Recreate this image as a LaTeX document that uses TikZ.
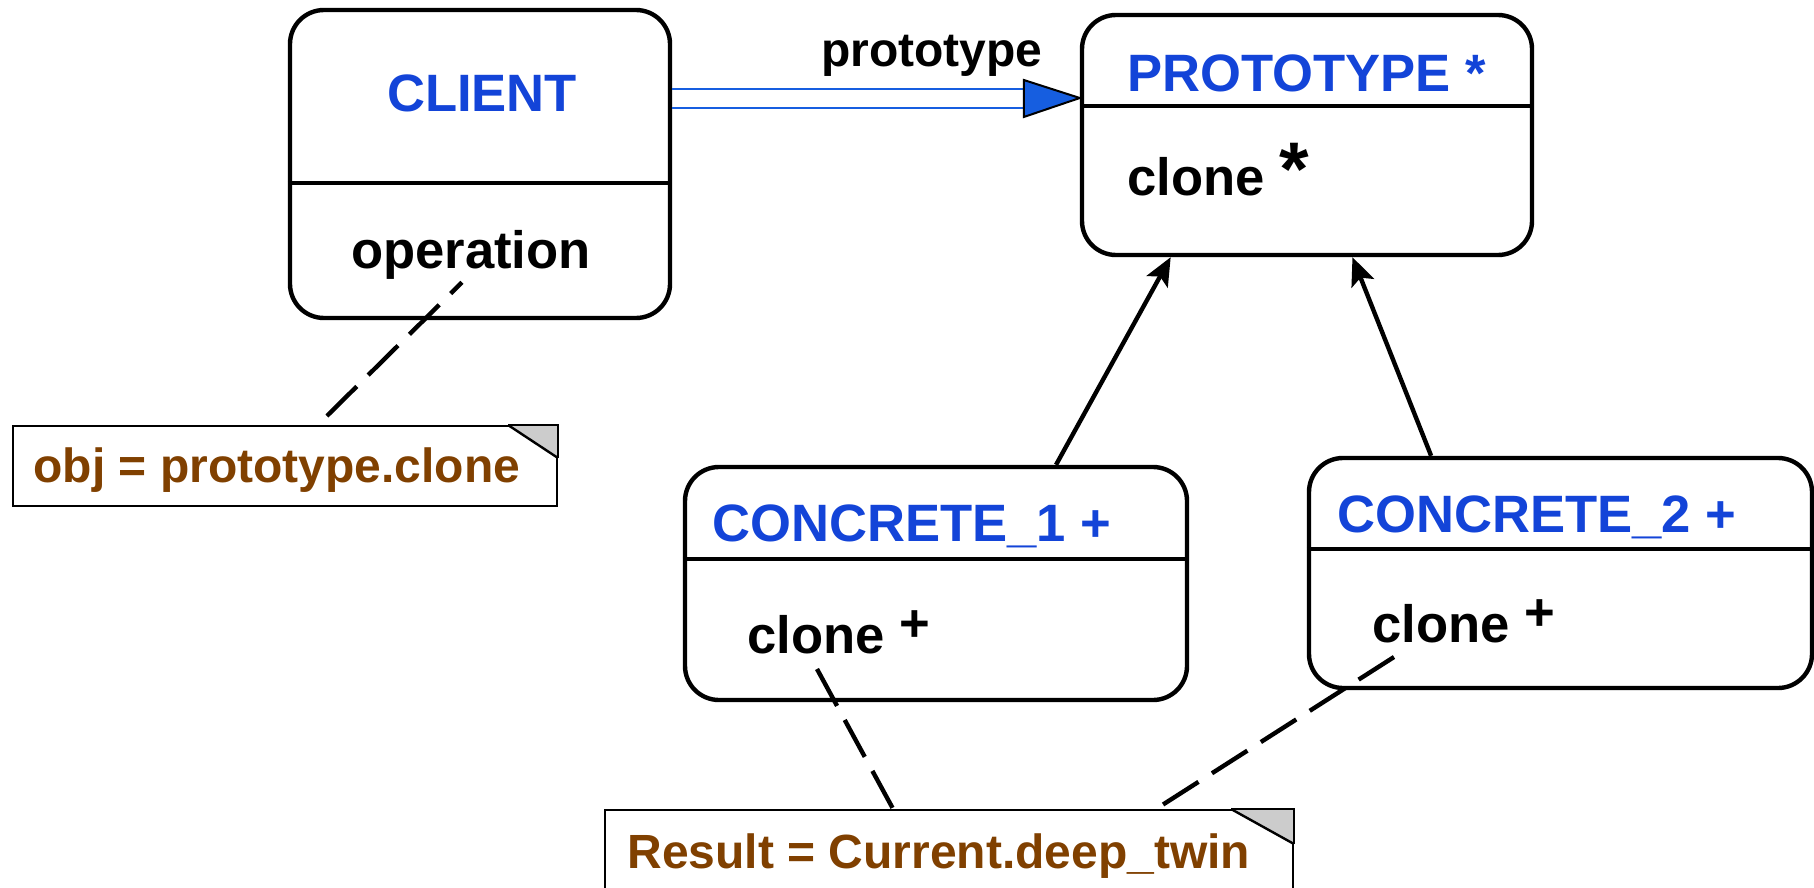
\documentclass[tikz,border=0pt]{standalone}
\usepackage{fontspec}
\setmainfont{Liberation Sans}
\usetikzlibrary{arrows.meta,fit,calc}
\definecolor{clsblue}{RGB}{19,68,216}
\definecolor{linkblue}{RGB}{22,94,224}
\definecolor{notebrown}{RGB}{128,64,0}
\definecolor{foldgray}{RGB}{204,204,204}
\begin{document}
\begin{tikzpicture}[x=0.5pt,y=-0.5pt,
  cls/.style={draw,line width=2.2pt,rounded corners=17pt,inner sep=0pt},
  notebox/.style={draw,line width=1pt,inner sep=0pt},
  txt/.style={inner sep=0pt,font=\fontsize{26.3pt}{30pt}\selectfont\bfseries},
  title/.style={txt,text=clsblue},
  notetxt/.style={inner sep=0pt,font=\fontsize{24pt}{28pt}\selectfont\bfseries,text=notebrown},
  divider/.style={line width=2.2pt},
  gen/.style={line width=2.2pt,-{Stealth[length=14pt,width=12pt,inset=3pt]}},
  dep/.style={line width=2.2pt,dash pattern=on 21pt off 8pt},
  bluelink/.style={draw=linkblue,line width=1pt},
]
\useasboundingbox (0,0) rectangle (1814,888);

% class boxes
\node[cls,fit={(290,10) (670,318)}] (client) {};
\node[cls,fit={(1082,15) (1532,255)}] (proto) {};
\node[cls,fit={(685,467) (1187,700)}] (c1) {};
\node[cls,fit={(1309,458) (1812,688)}] (c2) {};

% dividers
\draw[divider] (client.west |- 0,183) -- (client.east |- 0,183);
\draw[divider] (proto.west |- 0,106) -- (proto.east |- 0,106);
\draw[divider] (c1.west |- 0,559) -- (c1.east |- 0,559);
\draw[divider] (c2.west |- 0,549) -- (c2.east |- 0,549);

% class texts
\node[title,anchor=base] (clientname) at (482,112) {CLIENT};
\node[txt,anchor=base] (op) at (471,268) {operation};
\node[title,anchor=base west] (protoname) at (1127,91) {PROTOTYPE *};
\node[txt,anchor=base west] (protoclone) at (1127,195) {clone {\fontsize{38pt}{40pt}\selectfont *}};
\node[title,anchor=base west] (c1name) at (712,541) {CONCRETE\_1 +};
\node[txt,anchor=base west] (c1clone) at (747,653) {clone \raisebox{6pt}{+}};
\node[title,anchor=base west] (c2name) at (1337,532) {CONCRETE\_2 +};
\node[txt,anchor=base west] (c2clone) at (1372,642) {clone \raisebox{6pt}{+}};

% notes
\node[notebox,fit={(13,426) (557,506)}] (n1) {};
\fill[foldgray] ($(n1.north east)+(-50,0)$) -- (n1.north east) -- ($(n1.north east)+(0,33)$) -- cycle;
\draw[line width=1.2pt] ($(n1.north east)+(-50,0)$) -- ($(n1.north east)+(0,33)$);
\draw[line width=1pt] ($(n1.north east)+(-50,0)$) -- (n1.north east) -- ($(n1.north east)+(0,33)$);
\node[notetxt,anchor=base west] (n1text) at (33,482) {obj = prototype.clone};

\node[notebox,fit={(605,810) (1293,905)}] (n2) {};
\fill[foldgray] ($(n2.north east)+(-63,0)$) -- (n2.north east) -- ($(n2.north east)+(0,35)$) -- cycle;
\draw[line width=1.2pt] ($(n2.north east)+(-63,0)$) -- ($(n2.north east)+(0,35)$);
\draw[line width=1pt] ($(n2.north east)+(-63,0)$) -- (n2.north east) -- ($(n2.north east)+(0,35)$);
\node[notetxt,anchor=base west] (n2text) at (627,868) {Result = Current.deep\_twin};

% client -> prototype association
\draw[bluelink] (client.east |- 0,89) -- ($(proto.west |- 0,89)+(-56,0)$);
\draw[bluelink] (client.east |- 0,108) -- ($(proto.west |- 0,108)+(-56,0)$);
\filldraw[fill=linkblue,draw=black,line width=1pt] ($(proto.west |- 0,98)+(-56,-18)$) -- (proto.west |- 0,98) -- ($(proto.west |- 0,98)+(-56,19)$) -- cycle;
\node[txt,font=\fontsize{24pt}{28pt}\selectfont\bfseries,anchor=base] (assoclabel) at (932,67) {prototype};

% inheritance
\draw[gen] ($(c1.north west)!0.737!(c1.north east)$) -- ($(proto.south west)!0.2!(proto.south east)$);
\draw[gen] ($(c2.north west)!0.245!(c2.north east)$) -- ($(proto.south west)!0.6!(proto.south east)$);

% note links
\draw[dep,dash phase=13pt] ($(op.south)+(-9,3)$) -- ($(n1.north west)!0.56!(n1.north east)$);
\draw[dep] ($(c1clone.base west)+(70,16)$) -- ($(n2.north west)!0.419!(n2.north east)$);
\draw[dep] ($(c2clone.base west)+(22,15)$) -- ($(n2.north west)!0.8!(n2.north east)$);
\end{tikzpicture}
\end{document}
